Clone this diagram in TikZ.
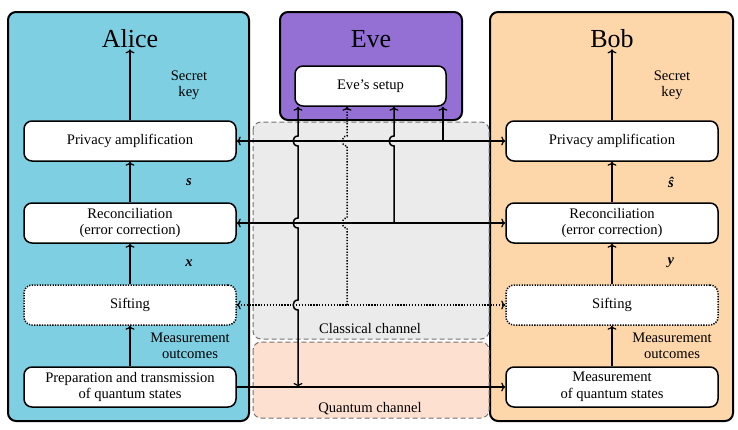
\documentclass[tikz,border=0pt]{standalone}
\usepackage{fontspec}
\setmainfont{Liberation Serif}
\usetikzlibrary{arrows.meta}
\definecolor{aliceC}{RGB}{127,207,226}
\definecolor{eveC}{RGB}{148,112,213}
\definecolor{bobC}{RGB}{253,214,170}
\definecolor{classC}{RGB}{235,235,235}
\definecolor{quantC}{RGB}{254,224,208}
\newcommand\lblfont{\fontsize{14.6}{16.5}\selectfont}
\newcommand\bigfont{\fontsize{26}{28}\selectfont}
\begin{document}
\begin{tikzpicture}[x=1pt,y=-1pt,
  >={To[length=4pt,width=9pt,line width=1.2pt]},
  panel/.style={draw=black,line width=2pt,rounded corners=8pt},
  chan/.style={draw=black!55,dash pattern=on 5pt off 3pt,line width=1pt,rounded corners=8pt},
  box/.style={draw,fill=white,line width=1.5pt,rounded corners=8pt,minimum width=212pt,minimum height=40pt,align=center,font=\lblfont,inner sep=0pt},
  dotbox/.style={box,dash pattern=on 1.3pt off 1.3pt},
  conn/.style={line width=1.5pt},
  dconn/.style={line width=1.5pt,dash pattern=on 1.3pt off 1.6pt},
  lbl/.style={font=\lblfont,align=center,inner sep=0pt},
  title/.style={font=\bigfont,inner sep=0pt}]
\useasboundingbox (0,0) rectangle (738,429);
% panels
\draw[panel,fill=aliceC] (8,12) rectangle (249,421);
\draw[panel,fill=eveC] (280,12) rectangle (462,120);
\draw[panel,fill=bobC] (490,12) rectangle (733,421);
\draw[chan,fill=classC] (253,122) rectangle (489,339);
\draw[chan,fill=quantC] (253,342) rectangle (489,418);
\node[lbl] (cc) at (370,328) {Classical channel};
\node[lbl] (qc) at (370,409) {Quantum channel};
% titles
\node[title] (alice) at (130,39) {Alice};
\node[title] (eve) at (371,39) {Eve};
\node[title] (bob) at (612,39) {Bob};
% Alice boxes
\node[box] (aPA) at (130,141) {Privacy amplification};
\node[box] (aRe) at (130,223) {Reconciliation\\(error correction)};
\node[dotbox] (aSi) at (130,305) {Sifting};
\node[box] (aPr) at (130,387) {Preparation and transmission\\of quantum states};
% Bob boxes
\node[box] (bPA) at (612,141) {Privacy amplification};
\node[box] (bRe) at (612,223) {Reconciliation\\(error correction)};
\node[dotbox] (bSi) at (612,305) {Sifting};
\node[box] (bMe) at (612,387) {Measurement\\of quantum states};
% Eve
\node[box,minimum width=151pt] (eS) at (370.5,86) {Eve’s setup};
% labels
\node[lbl] (ask) at (189,85) {Secret\\key};
\node[lbl] (as) at (189,182) {\textbf{\textit{s}}};
\node[lbl] (ax) at (189,263) {\textbf{\textit{x}}};
\node[lbl] (amo) at (190,346) {Measurement\\outcomes};
\node[lbl] (bsk) at (672,85) {Secret\\key};
\node[lbl] (bs) at (671,182) {\textbf{\textit{ŝ}}};
\node[lbl] (by) at (671,263) {\textbf{\textit{y}}};
\node[lbl] (bmo) at (672,346) {Measurement\\outcomes};
% internal arrows
\draw[conn,->] (aPr.north) -- (aSi.south);
\draw[conn,->] (aSi.north) -- (aRe.south);
\draw[conn,->] (aRe.north) -- (aPA.south);
\draw[conn,->] (aPA.north) -- ([yshift=-1pt]alice.south);
\draw[conn,->] (bMe.north) -- (bSi.south);
\draw[conn,->] (bSi.north) -- (bRe.south);
\draw[conn,->] (bRe.north) -- (bPA.south);
\draw[conn,->] (bPA.north) -- ([yshift=-1pt]bob.south);
% horizontal channel lines
\draw[conn,<->] (aPA.east) -- (bPA.west);
\draw[conn,<->] (aRe.east) -- (bRe.west);
\draw[dconn,<->] (aSi.east) -- (bSi.west);
\draw[conn,->] (aPr.east) -- (bMe.west);
% Eve taps
\coordinate (t1) at (298,387);
\coordinate (t2) at (347,305);
\coordinate (t3) at (394,223);
\coordinate (t4) at (443,141);
\draw[conn,<->] (t1)
  -- (298,310) .. controls (291.5,310) and (291.5,300) .. (298,300)
  -- (298,228) .. controls (291.5,228) and (291.5,218) .. (298,218)
  -- (298,146) .. controls (291.5,146) and (291.5,136) .. (298,136)
  -- (t1 |- eS.south);
\draw[dconn,->] (t2)
  -- (347,228) .. controls (340.5,228) and (340.5,218) .. (347,218)
  -- (347,146) .. controls (340.5,146) and (340.5,136) .. (347,136)
  -- (t2 |- eS.south);
\draw[conn,->] (t3)
  -- (394,146) .. controls (387.5,146) and (387.5,136) .. (394,136)
  -- (t3 |- eS.south);
\draw[conn,->] (t4) -- (t4 |- eS.south);
\end{tikzpicture}
\end{document}
